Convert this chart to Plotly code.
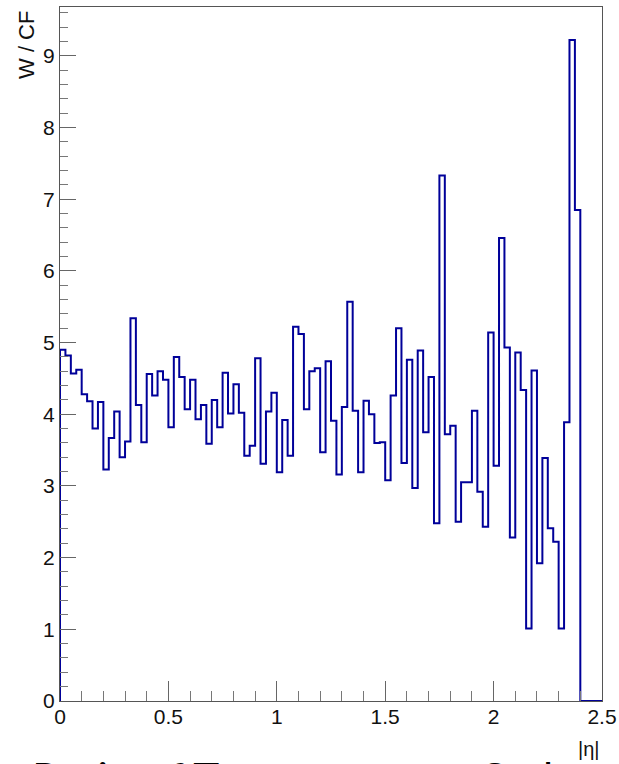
import numpy as np
import plotly.graph_objects as go

# |eta| binning: 100 bins of width 0.025 on [0, 2.5]
bin_edges = np.round(np.arange(0, 2.5 + 1e-9, 0.025), 4)

# W / CF per bin (bins above 2.4 are empty)
ratio = [
    4.90, 4.82, 4.57, 4.62, 4.28, 4.18, 3.80, 4.17, 3.23, 3.67,
    4.04, 3.40, 3.62, 5.34, 4.13, 3.61, 4.56, 4.26, 4.60, 4.48,
    3.82, 4.80, 4.52, 4.07, 4.48, 3.93, 4.13, 3.59, 4.20, 3.82,
    4.58, 4.01, 4.42, 4.02, 3.42, 3.56, 4.78, 3.31, 4.04, 4.30,
    3.19, 3.92, 3.42, 5.22, 5.12, 4.07, 4.60, 4.64, 3.47, 4.74,
    3.91, 3.16, 4.10, 5.57, 4.05, 3.19, 4.19, 4.00, 3.60, 3.61,
    3.08, 4.26, 5.20, 3.32, 4.76, 2.97, 4.89, 3.75, 4.52, 2.48,
    7.33, 3.72, 3.84, 2.50, 3.05, 3.05, 4.05, 2.92, 2.43, 5.14,
    3.28, 6.46, 4.93, 2.28, 4.86, 4.34, 1.01, 4.61, 1.92, 3.39,
    2.41, 2.22, 1.01, 3.89, 9.22, 6.85, 0.0, 0.0, 0.0, 0.0,
]

x_title = "|η|"
y_title = "W / CF"
slide_caption = "Ratio of Targets versus Cadence"

W, H = 619, 764
L, R, T, B = 60, 17, 7, 63
PW, PH = W - L - R, H - T - B


def px_x(p):
    return (p - L) / PW


def px_y(p):
    return (H - B - p) / PH


# histogram outline: rise from zero at the first edge, fall back to zero at the end
xs = [bin_edges[0]] + list(bin_edges[:-1]) + [bin_edges[-1]]
ys = [0.0] + ratio + [ratio[-1]]

fig = go.Figure()
fig.add_trace(go.Scatter(
    x=xs, y=ys, mode="lines",
    line=dict(shape="hv", color="#000099", width=2),
    hoverinfo="skip", showlegend=False,
))

tick_font = dict(family="Liberation Sans, Arial, sans-serif", size=21, color="#111")
axis_common = dict(
    showline=True, linecolor="#555", linewidth=1.2, mirror=True,
    showgrid=False, zeroline=False, ticks="inside", tickcolor="#666",
    tickwidth=1, tickfont=tick_font,
)

fig.update_xaxes(
    range=[0, 2.5], tick0=0, dtick=0.5, ticklen=20, ticklabelstandoff=-3,
    minor=dict(dtick=0.1, ticklen=10, ticks="inside", tickcolor="#777", showgrid=False),
    **axis_common,
)
fig.update_yaxes(
    range=[0, 1.05 * max(ratio)], tick0=0, dtick=1, ticklen=16,
    minor=dict(dtick=0.2, ticklen=8, ticks="inside", tickcolor="#777", showgrid=False),
    **axis_common,
)

fig.add_annotation(
    text=y_title, textangle=-90, showarrow=False,
    xref="paper", yref="paper", x=px_x(26), y=px_y(9),
    xanchor="center", yanchor="top",
    font=dict(family="Liberation Sans, Arial, sans-serif", size=22, color="#111"),
)
fig.add_annotation(
    text=x_title, showarrow=False,
    xref="paper", yref="paper", x=1.0, y=px_y(736),
    xanchor="right", yanchor="top",
    font=dict(family="Liberation Sans, Arial, sans-serif", size=20, color="#111"),
)
fig.add_annotation(
    text=slide_caption, showarrow=False,
    xref="paper", yref="paper", x=px_x(30), y=px_y(750),
    xanchor="left", yanchor="top",
    font=dict(family="Lato, sans-serif", size=44, color="#000"),
)

fig.update_layout(
    width=W, height=H,
    margin=dict(l=L, r=R, t=T, b=B, pad=0, autoexpand=False),
    plot_bgcolor="white", paper_bgcolor="white",
)

fig.write_html("out.html")
